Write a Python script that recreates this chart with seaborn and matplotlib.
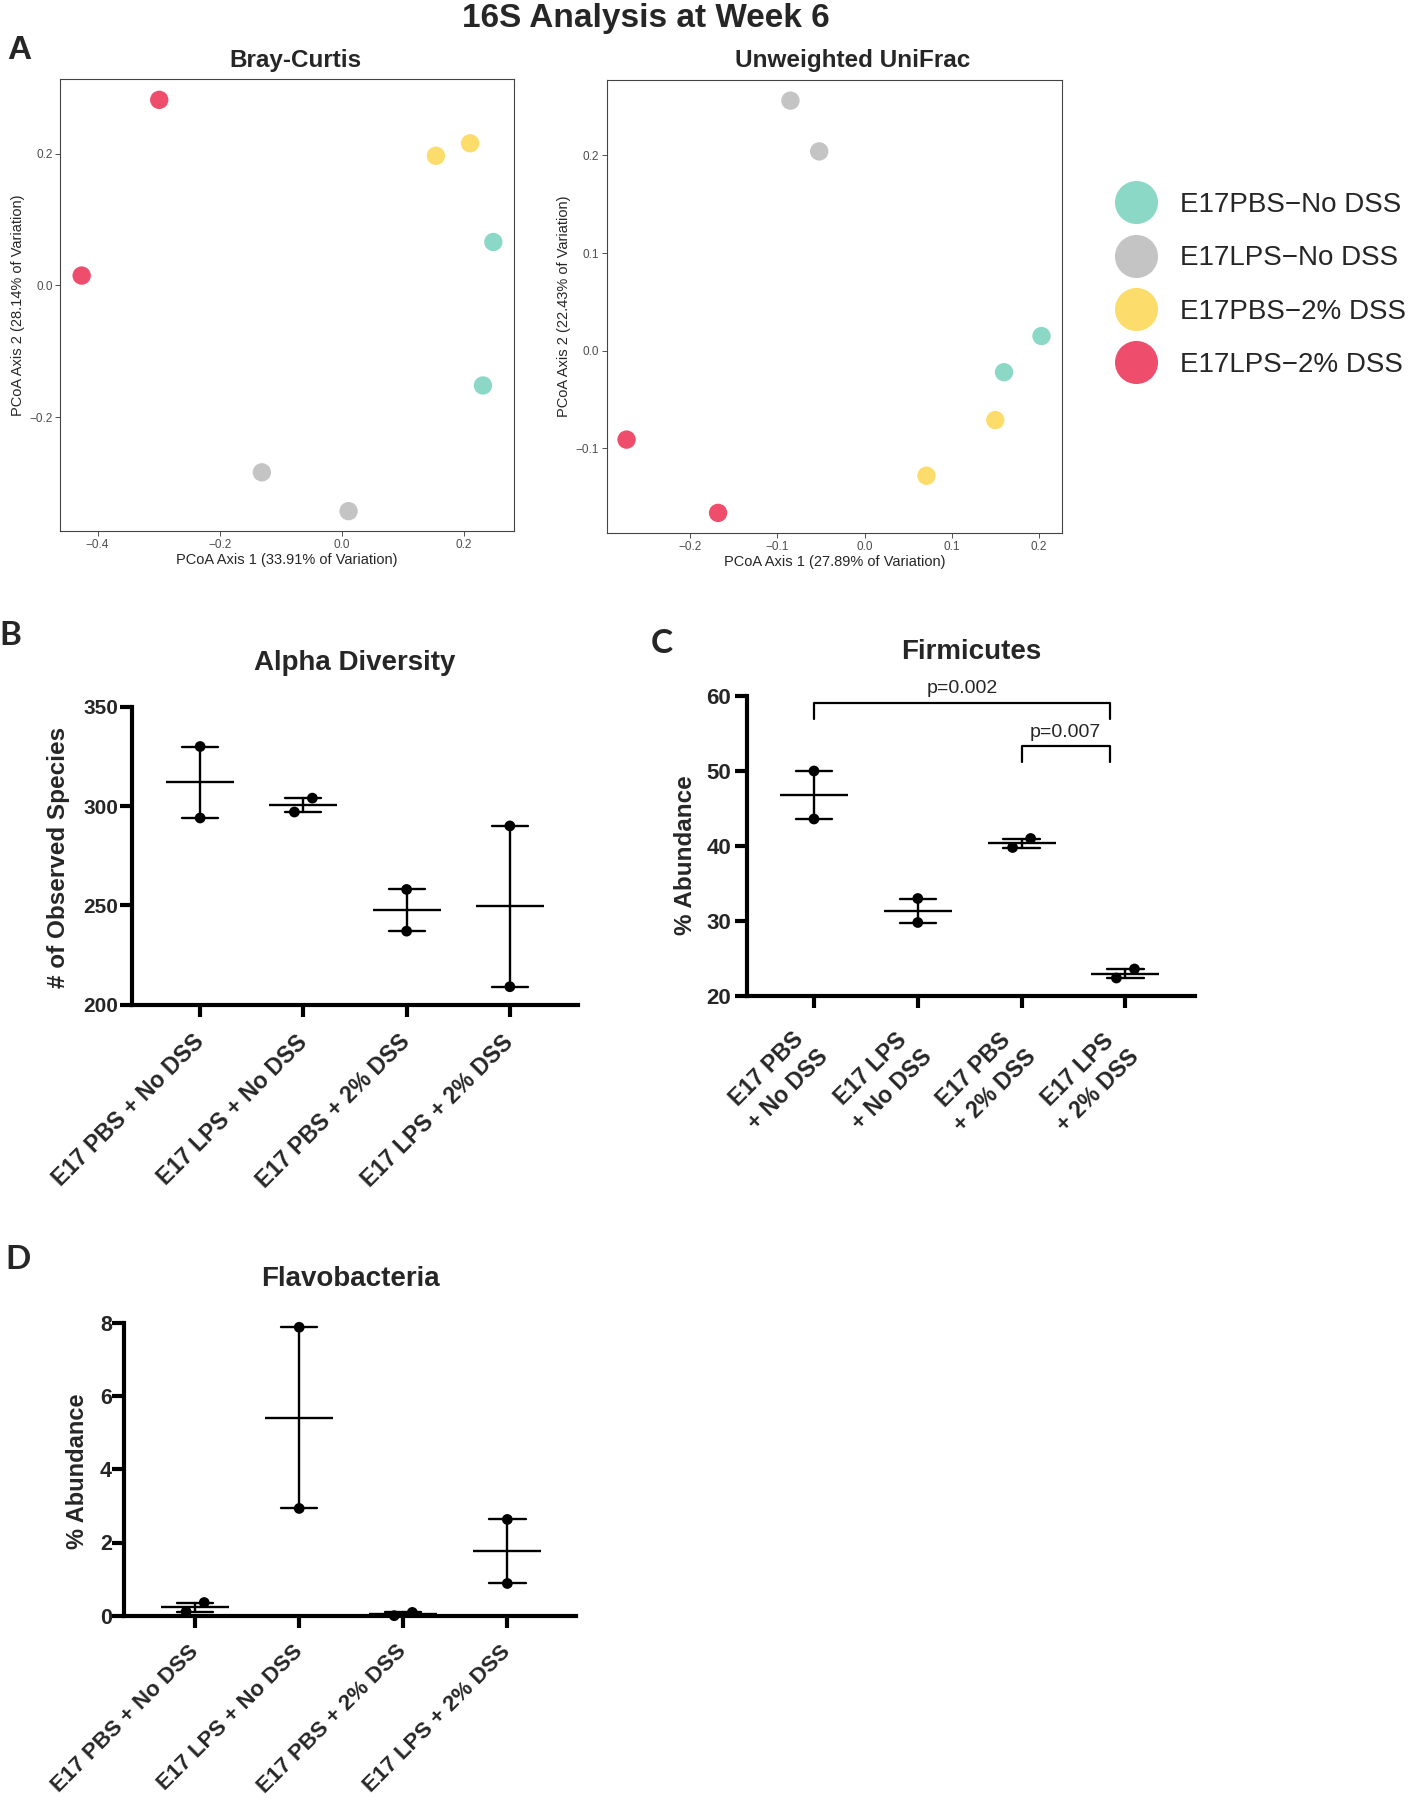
import numpy as np
import pandas as pd
import seaborn as sns
import matplotlib.pyplot as plt
from matplotlib.lines import Line2D

W, H = 1409, 1800

# --- panel A: PCoA coordinates (two samples per group) ---
pcoa_groups = ["E17PBS\u2212No DSS", "E17LPS\u2212No DSS", "E17PBS\u22122% DSS", "E17LPS\u22122% DSS"]
pcoa_colors = ["#8BD8C7", "#C4C4C4", "#FCDC6A", "#EE4D6C"]
sample_group = [0, 0, 1, 1, 2, 2, 3, 3]
bray_x = [0.248, 0.231, -0.131, 0.011, 0.154, 0.210, -0.299, -0.426]
bray_y = [0.066, -0.152, -0.284, -0.343, 0.197, 0.216, 0.282, 0.015]
unifrac_x = [0.203, 0.160, -0.085, -0.052, 0.150, 0.071, -0.273, -0.168]
unifrac_y = [0.015, -0.022, 0.256, 0.204, -0.071, -0.128, -0.091, -0.166]

# --- panels B-D: two mice per group ---
groups_long = ["E17 PBS + No DSS", "E17 LPS + No DSS", "E17 PBS + 2% DSS", "E17 LPS + 2% DSS"]
groups_wrap = ["E17 PBS\n+ No DSS", "E17 LPS\n+ No DSS", "E17 PBS\n+ 2% DSS", "E17 LPS\n+ 2% DSS"]
observed_species = [[330, 294], [304, 297], [258, 237], [290, 209]]
firmicutes = [[50.0, 43.6], [33.0, 29.8], [41.0, 39.8], [23.6, 22.4]]
flavobacteria = [[0.36, 0.11], [7.88, 2.93], [0.09, 0.0], [2.63, 0.88]]
# significance brackets for Firmicutes: (left, right, height, text)
firm_pvals = [(0.0, 2.85, 59.1, "p=0.002"), (2.0, 2.85, 53.3, "p=0.007")]

sns.set_theme(style="ticks")
plt.rcParams["font.family"] = ["Liberation Sans", "DejaVu Sans"]

fig = plt.figure(figsize=(W / 100, H / 100), dpi=100)


def px_axes(l, t, r, b):
    return fig.add_axes([l / W, 1 - b / H, (r - l) / W, (b - t) / H])


def to_axes(ax, x_px, y_px):
    bb = ax.get_position()
    return (x_px / W - bb.x0) / bb.width, (1 - y_px / H - bb.y0) / bb.height


def pcoa_panel(ax, xs, ys, title, title_px, xlabel, ylabel, xlim, ylim, xticks, yticks):
    df = pd.DataFrame({"x": xs, "y": ys, "group": [pcoa_groups[i] for i in sample_group]})
    sns.scatterplot(data=df, x="x", y="y", hue="group", hue_order=pcoa_groups,
                    palette=pcoa_colors, s=175, edgecolor="none", legend=False, ax=ax)
    ax.set_xlim(xlim)
    ax.set_ylim(ylim)
    ax.set_xticks(xticks)
    ax.set_yticks(yticks)
    ax.set_xlabel(xlabel, fontsize=10.5, labelpad=2)
    ax.set_ylabel(ylabel, fontsize=10.5, labelpad=3)
    ax.tick_params(length=3.5, width=0.6, color="#333333", labelsize=8.5,
                   labelcolor="#4D4D4D", pad=2)
    for s in ax.spines.values():
        s.set_visible(True)
        s.set_linewidth(0.8)
        s.set_color("#444444")
    tx, ty = to_axes(ax, *title_px)
    ax.set_title(title, x=tx, y=ty, pad=0, fontsize=17.5, fontweight="bold", va="baseline")


def dot_panel(ax, values, labels, ylim, yticks, xlim, title, title_px, ylabel, ylabel_px,
              ylab_size, ytick_size, xtick_size, ypad, xpad, wrap=False):
    span = ylim[1] - ylim[0]
    rows = []
    for gi, pair in enumerate(values):
        lo, hi = sorted(pair)
        # overlapping replicates are nudged apart, like the scatter dot plot
        shift = 0.087 if (hi - lo) < 0.065 * span else 0.0
        rows.append({"pos": gi, "value": lo, "xdot": gi - shift})
        rows.append({"pos": gi, "value": hi, "xdot": gi + shift})
    df = pd.DataFrame(rows)

    sns.pointplot(data=df, x="pos", y="value", native_scale=True, orient="x",
                  errorbar="se", capsize=0.35, color="black", marker="_",
                  markersize=49, markeredgewidth=1.7, linestyle="none",
                  err_kws={"linewidth": 1.7}, ax=ax)
    sns.scatterplot(data=df, x="xdot", y="value", color="black", s=60,
                    edgecolor="none", legend=False, zorder=4, clip_on=False, ax=ax)

    ax.set_xlim(xlim)
    ax.set_ylim(ylim)
    ax.set_xlabel("")
    ax.set_yticks(yticks, labels=[f"{v:g}" for v in yticks], fontweight="bold",
                  fontsize=ytick_size)
    xkw = dict(rotation=45, ha="right", va="center", rotation_mode="anchor",
               fontweight="bold", fontsize=xtick_size)
    if wrap:
        xkw.update(multialignment="center", linespacing=1.35)
    ax.set_xticks(range(len(labels)), labels=labels, **xkw)
    sns.despine(ax=ax)
    for s in ("left", "bottom"):
        ax.spines[s].set_linewidth(3)
        ax.spines[s].set_color("black")
    ax.tick_params(width=3, length=8.5, color="black")
    ax.tick_params(axis="y", pad=ypad)
    ax.tick_params(axis="x", pad=xpad)

    ax.set_ylabel(ylabel, fontsize=ylab_size, fontweight="bold", va="center")
    ax.yaxis.set_label_coords(*to_axes(ax, *ylabel_px))
    tx, ty = to_axes(ax, *title_px)
    ax.set_title(title, x=tx, y=ty, pad=0, fontsize=20, fontweight="bold", va="baseline")


# ---------- Panel A ----------
ax_bc = px_axes(60.3, 78.8, 514.1, 530.9)
pcoa_panel(ax_bc, bray_x, bray_y, "Bray-Curtis", (295.3, 66.6),
           "PCoA Axis 1 (33.91% of Variation)", "PCoA Axis 2 (28.14% of Variation)",
           (-0.461, 0.282), (-0.373, 0.314), [-0.4, -0.2, 0.0, 0.2], [-0.2, 0.0, 0.2])

ax_uf = px_axes(606.5, 79.6, 1062, 533)
pcoa_panel(ax_uf, unifrac_x, unifrac_y, "Unweighted UniFrac", (853, 66.9),
           "PCoA Axis 1 (27.89% of Variation)", "PCoA Axis 2 (22.43% of Variation)",
           (-0.296, 0.2265), (-0.1866, 0.2775), [-0.2, -0.1, 0.0, 0.1, 0.2],
           [-0.1, 0.0, 0.1, 0.2])

handles = [Line2D([], [], ls="", marker="o", markersize=31, markerfacecolor=c,
                  markeredgecolor="none") for c in pcoa_colors]
fig.legend(handles, pcoa_groups, loc="center left", bbox_to_anchor=(1115 / W, 1 - 285 / H),
           frameon=False, fontsize=20, handlelength=1.5, handletextpad=0.85,
           labelspacing=0.98, borderpad=0, borderaxespad=0)

# ---------- Panel B ----------
ax_b = px_axes(132, 706.8, 578, 1004.6)
dot_panel(ax_b, observed_species, groups_long, (200, 350), [200, 250, 300, 350], (-0.66, 3.66),
          "Alpha Diversity", (355, 670), "# of Observed Species", (59, 857.5),
          17.5, 15, 16.5, 1.5, 16)

# ---------- Panel C ----------
ax_c = px_axes(747.3, 696, 1195, 996)
dot_panel(ax_c, firmicutes, groups_wrap, (20, 60), [20, 30, 40, 50, 60], (-0.642, 3.67),
          "Firmicutes", (971, 659), "% Abundance", (685, 855),
          17.5, 16, 16.5, 3, 25, wrap=True)
drop = 2.15
for x0, x1, yb, text in firm_pvals:
    ax_c.plot([x0, x0, x1, x1], [yb - drop, yb, yb, yb - drop], color="black", lw=1.6,
              clip_on=False)
    ax_c.annotate(text, xy=((x0 + x1) / 2, yb), xytext=(0, 4), textcoords="offset points",
                  ha="center", va="bottom", fontsize=14, annotation_clip=False)

# ---------- Panel D ----------
ax_d = px_axes(124.4, 1322.9, 576, 1615.7)
dot_panel(ax_d, flavobacteria, groups_long, (0, 8), [0, 2, 4, 6, 8], (-0.68, 3.66),
          "Flavobacteria", (350, 1286.4), "% Abundance", (77.5, 1471),
          17, 15.5, 16, 0.5, 15)

# ---------- figure text ----------
fig.text(646 / W, 1 - 26.7 / H, "16S Analysis at Week 6", ha="center", va="baseline",
         fontsize=24, fontweight="bold")
fig.text(19 / W, 1 - 59.2 / H, "A", ha="center", va="baseline", fontsize=24, fontweight="bold")
for letter, cx, base in [("B", 10.7, 645), ("C", 662, 653), ("D", 18, 1268.6)]:
    fig.text(cx / W, 1 - base / H, letter, ha="center", va="baseline", fontsize=24,
             fontweight="bold", family=["Lato", "DejaVu Sans"])

fig.savefig("out.png", dpi=100)
